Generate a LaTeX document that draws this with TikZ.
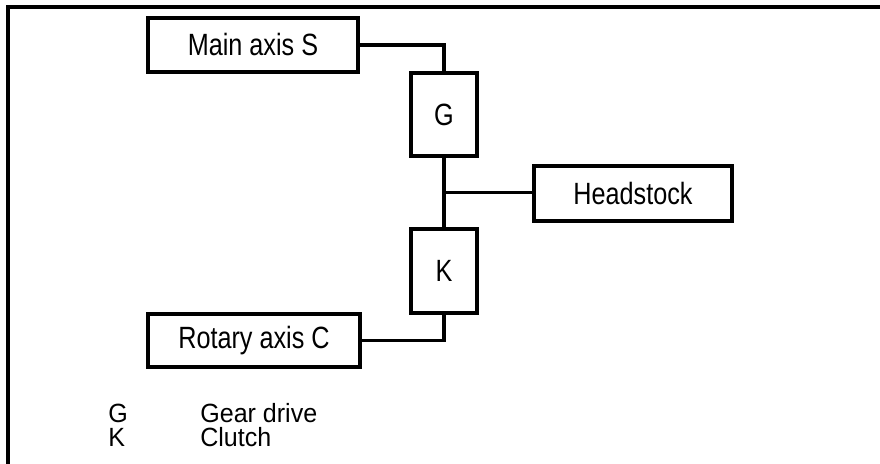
\documentclass[tikz,border=0pt]{standalone}
\usepackage{fontspec}
\setmainfont{Liberation Sans}
\newfontfamily\boxfont[FakeStretch=0.82]{Liberation Sans}
\newfontfamily\legfont[FakeStretch=0.95]{Liberation Sans}
\usetikzlibrary{positioning,calc}

\begin{document}
\begin{tikzpicture}[
    blk/.style={draw, line width=1.8pt, minimum height=1.08cm, inner sep=0pt, font=\boxfont\fontsize{17.5}{20}\selectfont},
    conn/.style={line width=1.8pt},
    legtxt/.style={anchor=base west, inner sep=0pt, font=\legfont\fontsize{15}{17}\selectfont}
  ]
    \useasboundingbox (0,0) rectangle (17.6,9.28);

    % Frame (left and top edges only)
    \draw[line width=2pt] (0.16,0) -- (0.16,9.14) -- (17.6,9.14);

    % Blocks
    \node[blk, minimum width=4.2cm]  (mainS)  at (5.06, 8.38) {Main axis S};
    \node[blk, minimum width=1.32cm, minimum height=1.66cm] (gear)   at (8.88, 6.99) {G};
    \node[blk, minimum width=3.96cm, minimum height=1.1cm]  (head)   at (12.66, 5.41) {Headstock};
    \node[blk, minimum width=1.32cm, minimum height=1.68cm] (clutch) at (8.88, 3.86) {K};
    \node[blk, minimum width=4.24cm, minimum height=1.06cm] (rotC)   at (5.08, 2.47) {Rotary axis C};

    % Connections
    \draw[conn] (mainS.east) -| (gear.north);
    \draw[conn] (gear.south) -- (clutch.north);
    \coordinate (tee) at ($(gear.south)!0.5!(clutch.north)$);
    \draw[conn] (tee) -- (tee -| head.west);
    \draw[conn] (clutch.south) |- (rotC.east);

    % Legend
    \node[legtxt] (legG)  at (2.16, 0.82) {G};
    \node[legtxt] (legGt) at (4.0,  0.82) {Gear drive};
    \node[legtxt] (legK)  at (2.16, 0.34) {K};
    \node[legtxt] (legKt) at (4.0,  0.34) {Clutch};

  \end{tikzpicture}
\end{document}
